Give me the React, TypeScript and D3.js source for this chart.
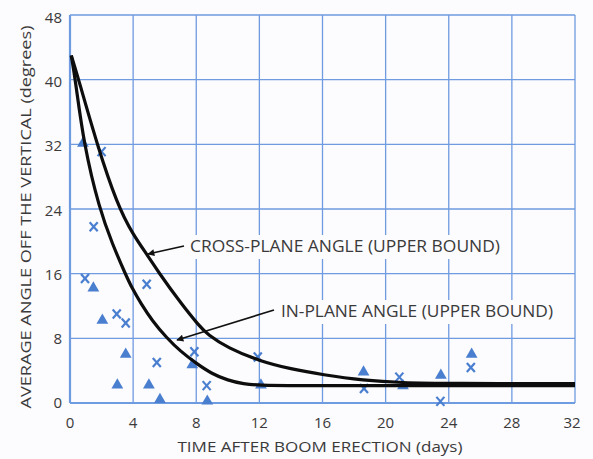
import React, { useEffect, useRef } from 'react';
import * as d3 from 'd3';

// measured points (days, degrees)
const triangleDays = [0.82, 1.48, 2.05, 3.0, 3.53, 5.0, 5.7, 7.75, 8.7, 12.1, 18.6, 21.1, 23.5, 25.45];
const triangleAngles = [32.0, 14.1, 10.1, 2.1, 5.9, 2.1, 0.3, 4.6, 0.1, 2.1, 3.7, 2.0, 3.3, 5.9];

const crossDays = [2.0, 1.5, 0.95, 4.86, 2.96, 3.53, 5.5, 7.88, 8.66, 11.9, 18.63, 20.87, 23.47, 25.4];
const crossAngles = [31.1, 21.8, 15.4, 14.7, 11.0, 9.9, 5.0, 6.35, 2.15, 5.7, 1.8, 3.2, 0.2, 4.4];

// upper bound curves
const inPlaneCurve: [number, number][] = [
  [0.08, 43], [0.34, 40], [0.87, 32], [1.86, 24], [2.7, 19.6], [3.5, 16], [3.93, 14.2], [4.5, 12.3],
  [5.2, 10.2], [6.15, 8], [7, 6.4], [8, 4.9], [9, 3.6], [10, 2.8], [11, 2.35], [12, 2.2],
  [14, 2.15], [20, 2.15], [32, 2.15],
];
const crossPlaneCurve: [number, number][] = [
  [0.08, 43], [0.55, 40], [1.71, 32], [3.0, 24.5], [4.0, 20.8], [4.94, 18.2], [5.6, 16.2], [7, 12.4],
  [8.2, 9.5], [8.7, 8.5], [10, 6.8], [12, 5.2], [14, 4.2], [16, 3.5], [18.6, 2.8], [21, 2.5],
  [24, 2.42], [32, 2.4],
];

const xTicks = [0, 4, 8, 12, 16, 20, 24, 28, 32];
const yTicks = [0, 8, 16, 24, 32, 40, 48];

const font = "'Open Sans', sans-serif";
const textColor = '#3a3a3a';
const blue = '#4a7fd0';
const gridColor = '#6f9be0';
const paper = '#fcfbfd';

const App: React.FC = () => {
  const svgRef = useRef<SVGSVGElement>(null);

  useEffect(() => {
    if (!svgRef.current) return;
    const svg = d3.select(svgRef.current);
    svg.selectAll('*').remove();

    const width = 593;
    const height = 459;
    const x = d3.scaleLinear().domain([0, 32]).range([70, 575]);
    const y = d3.scaleLinear().domain([0, 48]).range([403, 15]);

    svg.append('rect').attr('width', width).attr('height', height).attr('fill', paper);

    const defs = svg.append('defs');
    defs.append('marker')
      .attr('id', 'arrow')
      .attr('viewBox', '0 0 10 10')
      .attr('refX', 9)
      .attr('refY', 5)
      .attr('markerWidth', 9)
      .attr('markerHeight', 7)
      .attr('markerUnits', 'userSpaceOnUse')
      .attr('orient', 'auto')
      .append('path')
      .attr('d', 'M0,0 L10,5 L0,10 Z')
      .attr('fill', '#111');

    // grid
    const grid = svg.append('g');
    grid.selectAll('line.v')
      .data(xTicks)
      .enter()
      .append('line')
      .attr('x1', d => x(d))
      .attr('x2', d => x(d))
      .attr('y1', y(48))
      .attr('y2', y(0))
      .attr('stroke', gridColor)
      .attr('stroke-width', d => (d === 0 ? 2.2 : 1.3));
    grid.selectAll('line.h')
      .data(yTicks)
      .enter()
      .append('line')
      .attr('x1', x(0))
      .attr('x2', x(32))
      .attr('y1', d => y(d))
      .attr('y2', d => y(d))
      .attr('stroke', gridColor)
      .attr('stroke-width', d => (d === 0 ? 2.2 : 1.3));

    // tick labels
    svg.append('g')
      .selectAll('text')
      .data(xTicks)
      .enter()
      .append('text')
      .attr('x', d => x(d) - (d === 32 ? 3 : 0))
      .attr('y', 428)
      .attr('text-anchor', 'middle')
      .style('font-family', font)
      .style('font-size', '15px')
      .style('fill', textColor)
      .text(d => d);
    svg.append('g')
      .selectAll('text')
      .data(yTicks)
      .enter()
      .append('text')
      .attr('x', 62)
      .attr('y', d => y(d) + 5 + d / 16)
      .attr('text-anchor', 'end')
      .style('font-family', font)
      .style('font-size', '15px')
      .style('fill', textColor)
      .text(d => d);

    // axis titles
    svg.append('text')
      .attr('x', 320)
      .attr('y', 452)
      .attr('text-anchor', 'middle')
      .attr('textLength', 285)
      .attr('lengthAdjust', 'spacingAndGlyphs')
      .style('font-family', font)
      .style('font-size', '15px')
      .style('fill', textColor)
      .text('TIME AFTER BOOM ERECTION (days)');
    svg.append('text')
      .attr('transform', 'translate(31,217) rotate(-90)')
      .attr('text-anchor', 'middle')
      .attr('textLength', 383)
      .attr('lengthAdjust', 'spacingAndGlyphs')
      .style('font-family', font)
      .style('font-size', '15px')
      .style('fill', textColor)
      .text('AVERAGE ANGLE OFF THE VERTICAL (degrees)');

    // label backgrounds
    svg.append('rect').attr('x', 186).attr('y', 235).attr('width', 318).attr('height', 24).attr('fill', paper);
    svg.append('rect').attr('x', 277).attr('y', 300).attr('width', 280).attr('height', 24).attr('fill', paper);

    // data markers: triangles
    const tri = d3.symbol().type(d3.symbolTriangle).size(60);
    svg.append('g')
      .selectAll('path')
      .data(triangleDays.map((d, i) => [d, triangleAngles[i]]))
      .enter()
      .append('path')
      .attr('d', tri)
      .attr('transform', d => `translate(${x(d[0])},${y(d[1]) - 1})`)
      .attr('fill', blue);

    // data markers: crosses
    const cross = svg.append('g').attr('stroke', blue).attr('stroke-width', 2.2).attr('stroke-linecap', 'butt');
    crossDays.forEach((d, i) => {
      const cx = x(d);
      const cy = y(crossAngles[i]);
      cross.append('line').attr('x1', cx - 4).attr('y1', cy - 4.5).attr('x2', cx + 4).attr('y2', cy + 4.5);
      cross.append('line').attr('x1', cx + 4).attr('y1', cy - 4.5).attr('x2', cx - 4).attr('y2', cy + 4.5);
    });

    // curves
    const line = d3.line<[number, number]>()
      .x(d => x(d[0]))
      .y(d => y(d[1]))
      .curve(d3.curveBasis);
    [inPlaneCurve, crossPlaneCurve].forEach(c => {
      svg.append('path')
        .attr('d', line(c))
        .attr('fill', 'none')
        .attr('stroke', '#0d0d0d')
        .attr('stroke-width', 3.2)
        .attr('stroke-linejoin', 'round');
    });

    // annotations
    svg.append('line')
      .attr('x1', 184).attr('y1', 246).attr('x2', 148).attr('y2', 254)
      .attr('stroke', '#111').attr('stroke-width', 1.6)
      .attr('marker-end', 'url(#arrow)');
    svg.append('text')
      .attr('x', 190)
      .attr('y', 252)
      .attr('textLength', 310)
      .attr('lengthAdjust', 'spacingAndGlyphs')
      .style('font-family', font)
      .style('font-size', '16.5px')
      .style('fill', textColor)
      .text('CROSS-PLANE ANGLE (UPPER BOUND)');

    svg.append('line')
      .attr('x1', 274).attr('y1', 310).attr('x2', 177).attr('y2', 340)
      .attr('stroke', '#111').attr('stroke-width', 1.6)
      .attr('marker-end', 'url(#arrow)');
    svg.append('text')
      .attr('x', 281)
      .attr('y', 317)
      .attr('textLength', 272)
      .attr('lengthAdjust', 'spacingAndGlyphs')
      .style('font-family', font)
      .style('font-size', '16.5px')
      .style('fill', textColor)
      .text('IN-PLANE ANGLE (UPPER BOUND)');
  }, []);

  return (
    <svg
      ref={svgRef}
      width={593}
      height={459}
      style={{ position: 'absolute', left: 0, top: 0, display: 'block' }}
    />
  );
};

export default App;
